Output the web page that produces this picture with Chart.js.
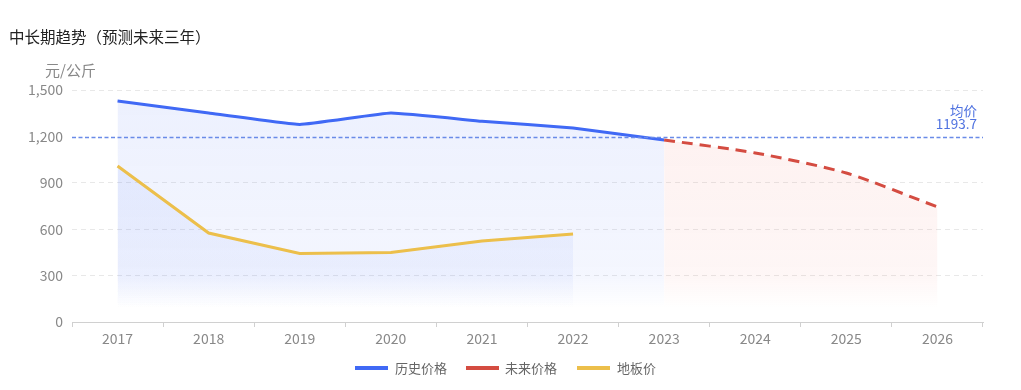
<!DOCTYPE html>
<html><head><meta charset="utf-8">
<script src="https://cdn.jsdelivr.net/npm/chart.js@4/dist/chart.umd.min.js"></script>
<style>html,body{margin:0;padding:0;background:#fff;}#wrap{width:1021px;height:390px;position:relative;}</style>
</head><body><div id="wrap"><canvas id="c" width="1021" height="390"></canvas></div>
<script>
const categories = ['2017','2018','2019','2020','2021','2022','2023','2024','2025','2026'];
const historyPrice = [1429, 1351, 1277, 1351, 1298, 1254, 1177, null, null, null];
const futurePrice  = [null, null, null, null, null, null, 1177, 1093, 963, 744];
const floorPrice   = [1009, 575, 443, 449, 524, 569, null, null, null, null];
const yTicks = [0, 300, 600, 900, 1200, 1500];
const titleText = '中长期趋势（预测未来三年）';
const unitText = '元/公斤';
const avgLabel = '均价';
const seriesNames = ['历史价格', '未来价格', '地板价'];

const allVals = historyPrice.slice(0,6).concat(futurePrice.slice(6));
const avgValue = allVals.reduce((a,b)=>a+b,0)/allVals.length;

const FONT = '"Noto Sans CJK SC", "Noto Sans", sans-serif';
const colors = ['#4069f5', '#d44c41', '#ecbf4b'];

function grad(ctx, rgb){
  const ca = ctx.chart.chartArea;
  if(!ca) return 'rgba(0,0,0,0)';
  const g = ctx.chart.ctx.createLinearGradient(0, ca.top, 0, ca.bottom);
  g.addColorStop(0, 'rgba('+rgb+',0.10)');
  g.addColorStop(0.8, 'rgba('+rgb+',0.06)');
  g.addColorStop(0.94, 'rgba('+rgb+',0.0)');
  g.addColorStop(1, 'rgba('+rgb+',0)');
  return g;
}

const overlay = {
  id: 'overlay',
  afterDatasetsDraw(chart){
    const {ctx, chartArea: ca, scales} = chart;
    const y = Math.round(scales.y.getPixelForValue(avgValue));
    ctx.save();
    ctx.strokeStyle = '#6a8be8';
    ctx.lineWidth = 1.4;
    ctx.setLineDash([4,2.5]);
    ctx.beginPath(); ctx.moveTo(ca.left, y + 0.5); ctx.lineTo(ca.right, y + 0.5); ctx.stroke();
    ctx.restore();
  },
  afterDraw(chart){
    const {ctx, chartArea: ca, scales} = chart;
    const y = scales.y.getPixelForValue(avgValue);
    ctx.save();
    ctx.fillStyle = '#4f72e0';
    ctx.font = '13.5px ' + FONT;
    ctx.textAlign = 'right'; ctx.textBaseline = 'middle';
    ctx.fillText(avgLabel, ca.right - 6, y - 26);
    ctx.fillText(avgValue.toFixed(1), ca.right - 6, y - 13);
    // title
    ctx.fillStyle = '#222';
    ctx.font = '15.5px ' + FONT;
    ctx.textAlign = 'left';
    ctx.fillText(titleText, 9, 37);
    // unit
    ctx.fillStyle = '#888';
    ctx.font = '15px ' + FONT;
    ctx.fillText(unitText, 45, 70);
    // legend
    const items = [[355, 395], [466, 505], [577, 617]];
    ctx.font = '13px ' + FONT;
    items.forEach((it, i) => {
      ctx.fillStyle = colors[i];
      ctx.fillRect(it[0], 366, 33, 4);
      ctx.fillStyle = '#666';
      ctx.fillText(seriesNames[i], it[1], 368);
    });
    ctx.restore();
  }
};

new Chart(document.getElementById('c'), {
  type: 'line',
  data: {
    labels: categories,
    datasets: [
      { label: seriesNames[0], data: historyPrice, borderColor: colors[0], borderWidth: 3,
        pointRadius: 0, fill: 'origin', backgroundColor: c => grad(c, '72,110,245'), tension: 0.1, order: 2 },
      { label: seriesNames[1], data: futurePrice, borderColor: colors[1], borderWidth: 3, borderDash: [11,7],
        pointRadius: 0, fill: 'origin', backgroundColor: c => grad(c, '240,110,100'), tension: 0.25, order: 1 },
      { label: seriesNames[2], data: floorPrice, borderColor: colors[2], borderWidth: 3,
        pointRadius: 0, fill: 'origin', backgroundColor: c => grad(c, '72,110,245'), tension: 0, order: 0 }
    ]
  },
  options: {
    responsive: false, animation: false, devicePixelRatio: 1,
    layout: { padding: { top: 90, right: 38, left: 0, bottom: 0 } },
    plugins: { legend: { display: false }, tooltip: { enabled: false }, title: { display: false } },
    scales: {
      x: {
        offset: true,
        grid: { offset: true, drawOnChartArea: false, drawTicks: true, tickLength: 5, color: '#d0d0d0' },
        border: { display: true, color: '#d0d0d0', width: 1 },
        ticks: { color: '#888', font: { size: 14, family: FONT }, padding: 3, maxRotation: 0 },
        afterFit(s){ s.height = 68; }
      },
      y: {
        min: 0, max: 1500,
        afterBuildTicks(s){ s.ticks = yTicks.map(v => ({value: v})); },
        grid: { drawTicks: false, color: ctx => ctx.tick && (ctx.tick.value === 0 || ctx.tick.value === 1200) ? 'rgba(0,0,0,0)' : '#e8e8e8' },
        border: { display: false, dash: [5,4] },
        ticks: { color: '#888', font: { size: 14, family: FONT }, padding: 9,
          callback: v => v.toLocaleString('en-US') },
        afterFit(s){ s.width = 72; }
      }
    }
  },
  plugins: [overlay]
});
</script>
</body></html>
